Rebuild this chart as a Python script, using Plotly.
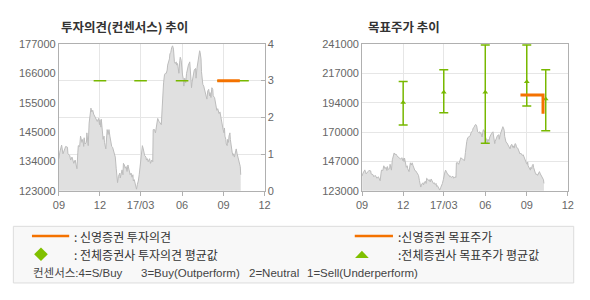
import plotly.graph_objects as go

# ---------------- data ----------------
price_dates = [
    "2016-09-01","2016-09-03","2016-09-07","2016-09-10","2016-09-14","2016-09-16","2016-09-20","2016-09-21",
    "2016-09-25","2016-09-27","2016-09-30","2016-10-02","2016-10-04","2016-10-07","2016-10-09","2016-10-11",
    "2016-10-13","2016-10-14","2016-10-17","2016-10-19","2016-10-22","2016-10-24","2016-10-26","2016-10-27",
    "2016-10-29","2016-11-01","2016-11-02","2016-11-04","2016-11-05","2016-11-07","2016-11-09","2016-11-11",
    "2016-11-13","2016-11-15","2016-11-17","2016-11-20","2016-11-22","2016-11-25","2016-11-28","2016-11-30",
    "2016-12-01","2016-12-03","2016-12-04","2016-12-06","2016-12-08","2016-12-10","2016-12-11","2016-12-14",
    "2016-12-16","2016-12-17","2016-12-19","2016-12-21","2016-12-23","2016-12-25","2016-12-27","2016-12-29",
    "2016-12-30","2017-01-01","2017-01-03","2017-01-04","2017-01-06","2017-01-08","2017-01-09","2017-01-11",
    "2017-01-14","2017-01-15","2017-01-17","2017-01-19","2017-01-21","2017-01-22","2017-01-24","2017-01-26",
    "2017-01-28","2017-01-30","2017-02-01","2017-02-03","2017-02-04","2017-02-06","2017-02-08","2017-02-10",
    "2017-02-12","2017-02-13","2017-02-15","2017-02-17","2017-02-19","2017-02-20","2017-02-22","2017-02-24",
    "2017-02-26","2017-02-28","2017-03-01","2017-03-03","2017-03-05","2017-03-07","2017-03-08","2017-03-10",
    "2017-03-13","2017-03-14","2017-03-16","2017-03-18","2017-03-21","2017-03-23","2017-03-26","2017-03-28",
    "2017-03-29","2017-04-01","2017-04-03","2017-04-05","2017-04-08","2017-04-11","2017-04-13","2017-04-16",
    "2017-04-18","2017-04-19","2017-04-21","2017-04-23","2017-04-25","2017-04-27","2017-04-29","2017-04-30",
    "2017-05-02","2017-05-04","2017-05-05","2017-05-07","2017-05-09","2017-05-11","2017-05-13","2017-05-15",
    "2017-05-17","2017-05-19","2017-05-20","2017-05-22","2017-05-23","2017-05-25","2017-05-27","2017-05-28",
    "2017-05-30","2017-05-31","2017-06-02","2017-06-04","2017-06-05","2017-06-07","2017-06-09","2017-06-11",
    "2017-06-13","2017-06-15","2017-06-18","2017-06-19","2017-06-20","2017-06-22","2017-06-23","2017-06-26",
    "2017-06-27","2017-06-28","2017-07-01","2017-07-02","2017-07-04","2017-07-06","2017-07-08","2017-07-10",
    "2017-07-11","2017-07-13","2017-07-14","2017-07-16","2017-07-17","2017-07-19","2017-07-21","2017-07-22",
    "2017-07-24","2017-07-26","2017-07-28","2017-07-30","2017-08-01","2017-08-02","2017-08-04","2017-08-06",
    "2017-08-08","2017-08-09","2017-08-12","2017-08-13","2017-08-14","2017-08-17","2017-08-19","2017-08-20",
    "2017-08-22","2017-08-24","2017-08-26","2017-08-28","2017-08-29","2017-08-31","2017-09-02","2017-09-03",
    "2017-09-04","2017-09-06","2017-09-07","2017-09-09","2017-09-10","2017-09-12","2017-09-13","2017-09-15",
    "2017-09-16","2017-09-17","2017-09-19","2017-09-20","2017-09-22","2017-09-23","2017-09-25","2017-09-26",
    "2017-09-28","2017-09-29","2017-10-01","2017-10-02","2017-10-03","2017-10-05","2017-10-06","2017-10-08",
    "2017-10-09",
]
price_values = [
    134800,137200,139800,136600,138400,139300,139000,136600,
    136000,134300,135400,133700,133100,134300,131900,131100,
    137200,139600,139300,143100,140800,141900,139300,142500,
    140200,140800,144300,141900,139600,147900,152600,153400,
    152000,152600,151200,150200,149100,148500,149600,147300,
    149100,146400,149300,145500,141900,143100,140800,138400,
    142500,145500,143700,145500,143100,140800,139300,139000,
    138400,137200,136600,135400,131300,127700,126000,128300,
    129500,127700,130100,130700,128900,133100,132500,131300,
    131900,130100,132500,130700,131300,128900,129500,128000,
    128900,126600,127100,126000,124800,123600,125400,126600,
    128900,131900,134800,137200,139600,138400,137200,136000,
    135400,134300,134800,133700,134800,133100,134300,133700,
    145500,145500,144300,146100,149600,148500,147900,147300,
    153800,159100,162700,165600,166200,166200,167400,169200,
    170400,171500,173300,173900,175700,176300,175100,170400,
    169800,170400,169200,169800,168600,166200,171000,172100,
    171000,167400,165600,163900,161500,164400,162700,166200,
    168000,169200,170400,168600,166200,160900,162700,165000,
    165600,167400,168000,164400,168000,171000,173300,174500,
    173900,171500,166800,163300,162100,161500,159700,159100,
    157300,156700,159700,160300,157900,159100,157300,160900,
    160300,157900,157300,156200,154400,152600,153200,152000,
    151400,152000,149600,147300,146100,145500,144300,146100,
    143100,141900,140200,139600,141900,140800,143100,144300,
    141900,140200,139000,137200,136000,136600,135400,136600,
    137800,138400,136600,136000,134800,133700,133100,131900,
    128900,
]

# 신영증권 투자의견 (consensus scale 0-4)
opinion_dates = ["2017-08-18", "2017-10-07"]
opinion_values = [3, 3]

# 전체증권사 평균 (investment opinion and target price range)
consensus_dates = ["2016-12-01", "2017-03-01", "2017-06-01", "2017-09-01", "2017-10-13"]
consensus_opinion = [3, 3, 3, 3, 3]
target_mean = [193900, 202100, 202100, 210600, 196800]
target_max = [210800, 220300, 240200, 240200, 220300]
target_min = [175900, 185800, 161300, 191200, 171300]

# 신영증권 목표주가
target_dates = ["2017-08-18", "2017-10-07", "2017-10-07"]
target_values = [200000, 200000, 185000]

x_tickvals = ["2016-09-01", "2016-12-01", "2017-03-01", "2017-06-01", "2017-09-01", "2017-12-01"]
x_ticktext = ["09", "12", "17/03", "06", "09", "12"]
x_range = ["2016-09-01", "2017-12-01"]

left_tickvals = [123000, 133800, 144600, 155400, 166200, 177000]
left_ticktext = ["123000", "134000", "145000", "155000", "166000", "177000"]
right_tickvals = [123000, 146600, 170200, 193800, 217400, 241000]
right_ticktext = ["123000", "147000", "170000", "194000", "217000", "241000"]

# ---------------- style ----------------
W, H = 590, 300
GREEN = "#78b800"
ORANGE = "#f47200"
AREA_LINE = "#bcbcbc"
AREA_FILL = "#e0e0e0"
AXIS = "#b0b0b0"
GRID = "#e6e6e6"
TICKFONT = dict(family="Liberation Sans, Arial, sans-serif", size=11, color="#666666")
KFONT = "Noto Sans CJK KR, sans-serif"


def px(x):
    return x / W


def py(y):
    return 1 - y / H


Y_DOM = [py(192.5), py(39.5)]
X1_DOM = [px(54), px(264)]
X2_DOM = [px(363.5), px(573.5)]

fig = go.Figure()

# left chart: price area + opinion
fig.add_trace(go.Scatter(x=price_dates, y=price_values, xaxis="x", yaxis="y",
                         mode="lines", line=dict(color=AREA_LINE, width=1),
                         fill="tozeroy", fillcolor=AREA_FILL, hoverinfo="skip"))
fig.add_trace(go.Scatter(x=consensus_dates, y=consensus_opinion, xaxis="x", yaxis="y2",
                         mode="markers",
                         marker=dict(symbol="line-ew", size=9, color=GREEN,
                                     line=dict(color=GREEN, width=1.5))))
fig.add_trace(go.Scatter(x=opinion_dates, y=opinion_values, xaxis="x", yaxis="y2",
                         mode="lines", line=dict(color=ORANGE, width=3)))

# right chart: price area + target prices
fig.add_trace(go.Scatter(x=price_dates, y=price_values, xaxis="x2", yaxis="y3",
                         mode="lines", line=dict(color=AREA_LINE, width=1),
                         fill="tozeroy", fillcolor=AREA_FILL, hoverinfo="skip"))
fig.add_trace(go.Scatter(
    x=consensus_dates, y=target_mean, xaxis="x2", yaxis="y3", mode="markers",
    marker=dict(symbol="triangle-up", size=5, color=GREEN),
    error_y=dict(type="data", symmetric=False,
                 array=[mx - m for mx, m in zip(target_max, target_mean)],
                 arrayminus=[m - mn for m, mn in zip(target_mean, target_min)],
                 color=GREEN, thickness=1.5, width=4.5)))
fig.add_trace(go.Scatter(x=target_dates, y=target_values, xaxis="x2", yaxis="y3",
                         mode="lines", line=dict(color=ORANGE, width=3)))

xcommon = dict(type="date", range=x_range, tickvals=x_tickvals, ticktext=x_ticktext,
               showgrid=True, gridcolor=GRID, gridwidth=1, showline=True, linecolor=AXIS,
               mirror=True, ticks="outside", ticklen=4, tickcolor=AXIS, tickfont=TICKFONT,
               zeroline=False, fixedrange=True)

fig.update_layout(
    width=W, height=H, margin=dict(l=0, r=0, t=0, b=0),
    paper_bgcolor="white", plot_bgcolor="white", showlegend=False,
    xaxis=dict(domain=X1_DOM, anchor="y", **xcommon),
    xaxis2=dict(domain=X2_DOM, anchor="y3", **xcommon),
    yaxis=dict(domain=Y_DOM, anchor="x", range=[123000, 177000], tickvals=left_tickvals,
               ticktext=left_ticktext, showgrid=False, showline=True, linecolor=AXIS,
               mirror=True, ticks="", tickfont=TICKFONT, zeroline=False),
    yaxis2=dict(overlaying="y", side="right", anchor="x", range=[0, 4], dtick=1,
                tickvals=[0, 1, 2, 3, 4], showgrid=True, gridcolor=GRID, showline=True,
                linecolor=AXIS, ticks="inside", ticklen=4, tickcolor=AXIS,
                tickfont=TICKFONT, zeroline=False),
    yaxis3=dict(domain=Y_DOM, anchor="x2", range=[123000, 241000], tickvals=right_tickvals,
                ticktext=right_ticktext, showgrid=True, gridcolor=GRID, showline=True,
                linecolor=AXIS, mirror=True, ticks="", tickfont=TICKFONT, zeroline=False),
)

ann = []
# titles
ann.append(dict(x=px(54), y=py(21), xref="paper", yref="paper", xanchor="left", yanchor="middle",
                text="<b>투자의견(컨센서스) 추이</b>", showarrow=False,
                font=dict(family=KFONT, size=12.5, color="#333333")))
ann.append(dict(x=px(367.5), y=py(21), xref="paper", yref="paper", xanchor="left", yanchor="middle",
                text="<b>목표주가 추이</b>", showarrow=False,
                font=dict(family=KFONT, size=12.5, color="#333333")))

legend_font = dict(family=KFONT, size=12, color="#333333")
ann.append(dict(x=px(67), y=py(240.5), xref="paper", yref="paper", xanchor="left", yanchor="middle",
                text=": 신영증권 투자의견", showarrow=False, font=legend_font))
ann.append(dict(x=px(67), y=py(258.5), xref="paper", yref="paper", xanchor="left", yanchor="middle",
                text=": 전체증권사 투자의견 평균값", showarrow=False, font=legend_font))
ann.append(dict(x=px(398), y=py(240.5), xref="paper", yref="paper", xanchor="left", yanchor="middle",
                text=":신영증권 목표주가", showarrow=False, font=legend_font))
ann.append(dict(x=px(398), y=py(258.5), xref="paper", yref="paper", xanchor="left", yanchor="middle",
                text=":전체증권사 목표주가 평균값", showarrow=False, font=legend_font))

row3_font = dict(family="Liberation Sans, Noto Sans CJK KR, sans-serif", size=11.5, color="#444444")
for xx, tt in [(26, "컨센서스:4=S/Buy"), (135.5, "3=Buy(Outperform)"),
               (246.5, "2=Neutral"), (305, "1=Sell(Underperform)")]:
    ann.append(dict(x=px(xx), y=py(278.5), xref="paper", yref="paper", xanchor="left",
                    yanchor="middle", text=tt, showarrow=False, font=row3_font))

fig.update_layout(annotations=ann)

shapes = []
# legend box
shapes.append(dict(type="rect", xref="paper", yref="paper", x0=px(7.5), x1=px(579.5),
                   y0=py(288.5), y1=py(229.5), fillcolor="#f8f8f8",
                   line=dict(color="#dcdcdc", width=1), layer="below"))
# legend orange lines
shapes.append(dict(type="line", xref="paper", yref="paper", x0=px(26.5), x1=px(64.5),
                   y0=py(239.5), y1=py(239.5), line=dict(color=ORANGE, width=2.5)))
shapes.append(dict(type="line", xref="paper", yref="paper", x0=px(356), x1=px(395),
                   y0=py(239.5), y1=py(239.5), line=dict(color=ORANGE, width=2.5)))
# legend diamond
cx, cy, r = 35.7, 258.5, 7
shapes.append(dict(type="path", xref="paper", yref="paper",
                   path=f"M {px(cx-r)},{py(cy)} L {px(cx)},{py(cy-r)} L {px(cx+r)},{py(cy)} L {px(cx)},{py(cy+r)} Z",
                   fillcolor="#80c000", line=dict(width=0)))
# legend triangle
tx, ty = 363.3, 259
shapes.append(dict(type="path", xref="paper", yref="paper",
                   path=f"M {px(tx-7)},{py(ty+3.5)} L {px(tx)},{py(ty-4)} L {px(tx+7)},{py(ty+3.5)} Z",
                   fillcolor="#80c000", line=dict(width=0)))
fig.update_layout(shapes=shapes)

fig.write_html("out.html")
